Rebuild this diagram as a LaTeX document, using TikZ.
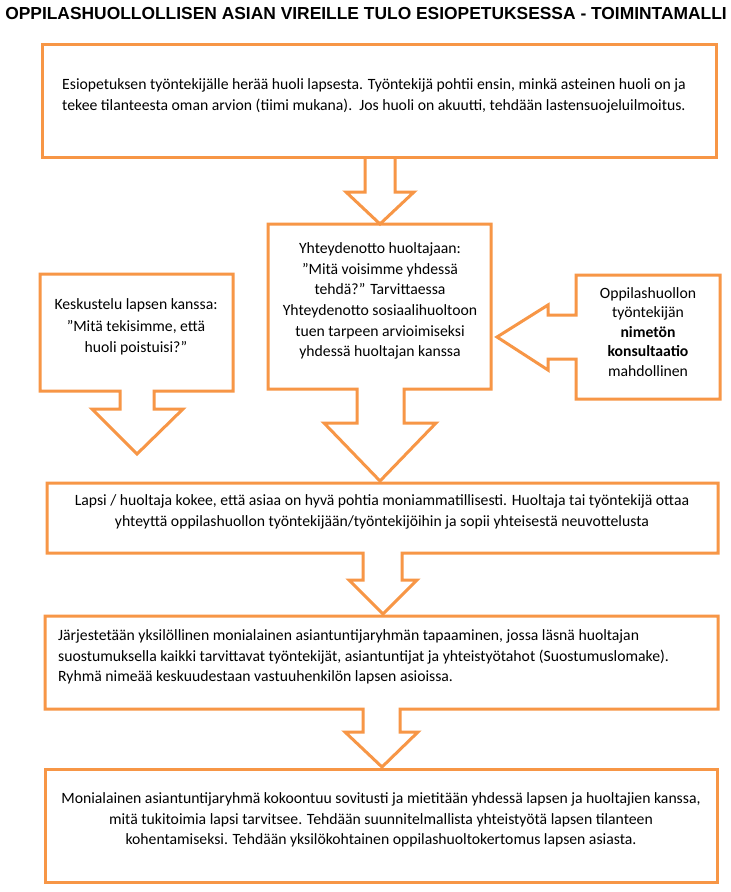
\documentclass[tikz,border=0pt]{standalone}
\usepackage{fontspec}
\setmainfont{Carlito}
\newfontfamily\titlefont{Liberation Sans}
\definecolor{org}{HTML}{F79646}
\begin{document}
\begin{tikzpicture}[x=1pt,y=-1pt,
  outl/.style={draw=org, line width=3pt, line join=miter},
  txt/.style={font=\fontsize{15.7}{20.6}\selectfont, inner sep=0pt, align=center, text=black}]
\useasboundingbox[fill=white] (0,0) rectangle (731,892);
\node[font=\titlefont\bfseries\fontsize{17.4}{20}\selectfont, inner sep=0pt] (title) at (366,14) {OPPILASHUOLLOLLISEN ASIAN VIREILLE TULO ESIOPETUKSESSA - TOIMINTAMALLI};
% box 1
\draw[outl] (42,44) rectangle (716,157);
\node[txt, align=left, anchor=west] (t1) at (62,96) {Esiopetuksen työntekijälle herää huoli lapsesta. Työntekijä pohtii ensin, minkä asteinen huoli on ja\\tekee tilanteesta oman arvion (tiimi mukana).\ \ Jos huoli on akuutti, tehdään lastensuojeluilmoitus.};
\draw[outl] (365,157) -- (365,192) -- (346,192) -- (380,224) -- (414,192) -- (395,192) -- (395,157);
% middle callout
\draw[outl] (357,389) -- (268,389) -- (268,224) -- (491,224) -- (491,389) -- (404,389) -- (404,423) -- (436,423) -- (380,481) -- (324,423) -- (357,423) -- cycle;
\node[txt] (t2) at (380,301) {Yhteydenotto huoltajaan:\\”Mitä voisimme yhdessä\\tehdä?” Tarvittaessa\\Yhteydenotto sosiaalihuoltoon\\tuen tarpeen arvioimiseksi\\yhdessä huoltajan kanssa};
% left callout
\draw[outl] (120,391) -- (40,391) -- (40,274) -- (233,274) -- (233,391) -- (154,391) -- (154,409) -- (183,409) -- (137,454) -- (92,409) -- (120,409) -- cycle;
\node[txt, font=\fontsize{15.7}{21.5}\selectfont] (t3) at (136,327) {Keskustelu lapsen kanssa:\\”Mitä tekisimme, että\\huoli poistuisi?”};
% right callout
\draw[outl] (576,315) -- (576,275) -- (720,275) -- (720,399) -- (576,399) -- (576,359) -- (548,359) -- (548,370) -- (497,337) -- (548,305) -- (548,315) -- cycle;
\node[txt, font=\fontsize{15.7}{19.5}\selectfont] (t4) at (648,332) {Oppilashuollon\\työntekijän\\\textbf{nimetön}\\\textbf{konsultaatio}\\mahdollinen};
% box 3
\draw[outl] (363,553) -- (47,553) -- (47,483) -- (718,483) -- (718,553) -- (402,553) -- (402,580) -- (417,580) -- (383,614) -- (349,580) -- (363,580) -- cycle;
\node[txt] (t5) at (382,512) {Lapsi / huoltaja kokee, että asiaa on hyvä pohtia moniammatillisesti. Huoltaja tai työntekijä ottaa\\yhteyttä oppilashuollon työntekijään/työntekijöihin ja sopii yhteisestä neuvottelusta};
% box 4
\draw[outl] (363,709) -- (45,709) -- (45,616) -- (718,616) -- (718,709) -- (400,709) -- (400,732) -- (418,732) -- (382,767) -- (345,732) -- (363,732) -- cycle;
\node[txt, align=left, anchor=west] (t6) at (58,657) {Järjestetään yksilöllinen monialainen asiantuntijaryhmän tapaaminen, jossa läsnä huoltajan\\suostumuksella kaikki tarvittavat työntekijät, asiantuntijat ja yhteistyötahot (Suostumuslomake).\\Ryhmä nimeää keskuudestaan vastuuhenkilön lapsen asioissa.};
% box 5
\draw[outl] (45,769) rectangle (717,882);
\node[txt] (t7) at (381,820) {Monialainen asiantuntijaryhmä kokoontuu sovitusti ja mietitään yhdessä lapsen ja huoltajien kanssa,\\mitä tukitoimia lapsi tarvitsee. Tehdään suunnitelmallista yhteistyötä lapsen tilanteen\\kohentamiseksi. Tehdään yksilökohtainen oppilashuoltokertomus lapsen asiasta.};
\end{tikzpicture}
\end{document}
